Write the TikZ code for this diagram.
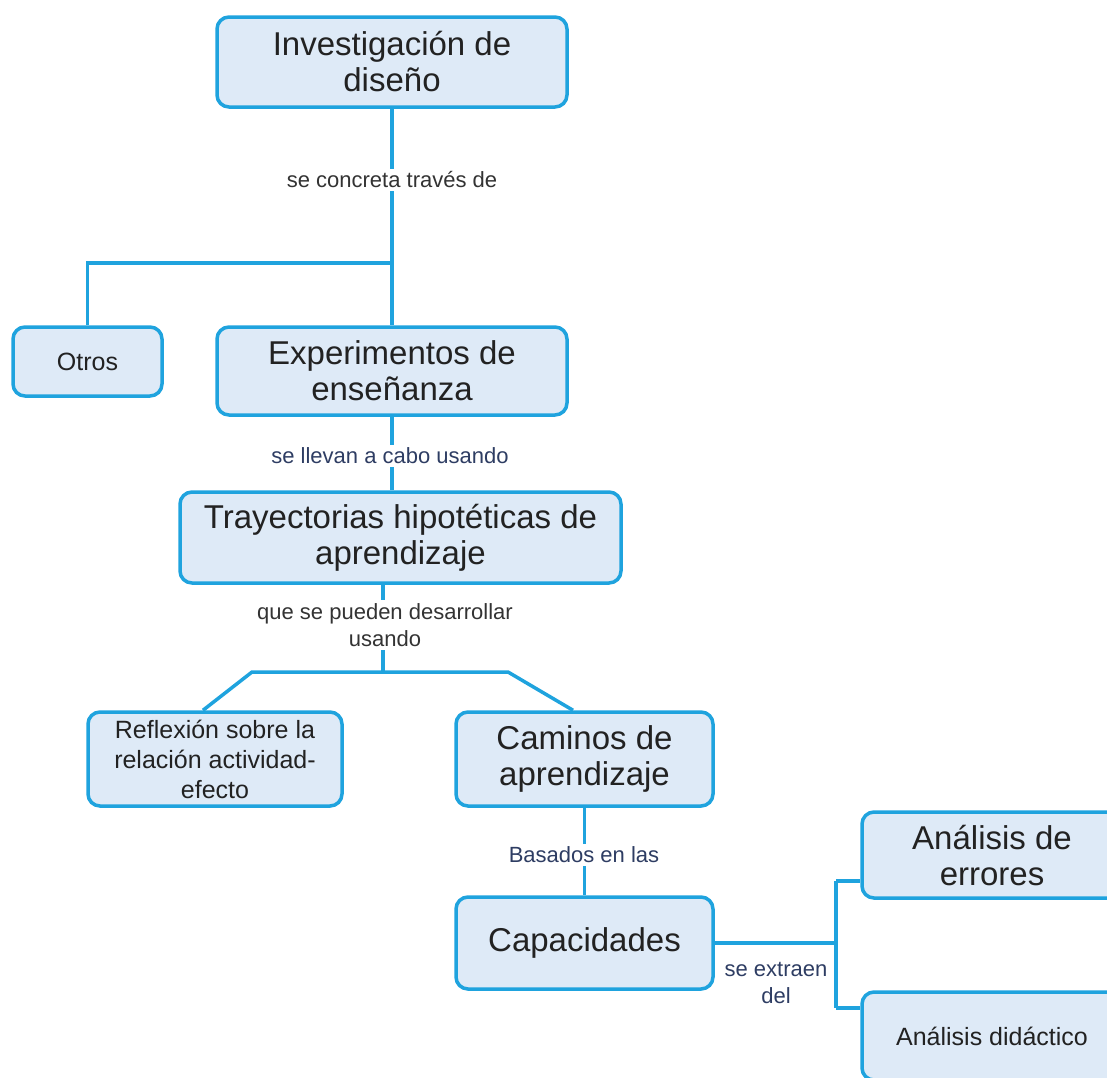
\documentclass[tikz,border=0pt]{standalone}
\usepackage{fontspec}
\setmainfont{Liberation Sans}
\usepackage{tikz}
\usetikzlibrary{calc,positioning}
\definecolor{mapline}{HTML}{1FA3DE}
\definecolor{mapfill}{HTML}{DEEAF7}
\definecolor{mapink}{HTML}{222222}
\definecolor{linkgray}{HTML}{333333}
\definecolor{linknavy}{HTML}{2E3D63}

\begin{document}
\begin{tikzpicture}[x=0.5pt,y=-0.5pt,
    concept/.style={draw=mapline,fill=mapfill,line width=1.75pt,rounded corners=6pt,
      align=center,text=mapink,inner sep=2pt},
    bigbox/.style={concept,font=\fontsize{16.5}{18}\selectfont},
    smallbox/.style={concept,font=\fontsize{12.5}{15}\selectfont},
    link/.style={mapline,line width=1.75pt},
    linklabel/.style={fill=white,align=center,inner sep=1.5pt,
      font=\fontsize{11}{13.5}\selectfont},
  ]
  \useasboundingbox (0,0) rectangle (1107,1077);

  % Concepts
  \node[bigbox,minimum width=175pt,minimum height=45pt] (inv) at (392,62)
    {Investigación de\\diseño};
  \node[smallbox,minimum width=74.5pt,minimum height=34.5pt] (otros) at (87.5,361.5)
    {Otros};
  \node[bigbox,minimum width=175pt,minimum height=44pt] (exp) at (392,371)
    {Experimentos de\\enseñanza};
  \node[bigbox,minimum width=220.5pt,minimum height=45.5pt] (tray) at (400.5,537.5)
    {Trayectorias hipotéticas de\\aprendizaje};
  \node[smallbox,minimum width=127pt,minimum height=47pt] (refl) at (215,759)
    {Reflexión sobre la\\relación actividad-\\efecto};
  \node[bigbox,minimum width=128.5pt,minimum height=47pt] (cam) at (584.5,759)
    {Caminos de\\aprendizaje};
  \node[bigbox,minimum width=128.5pt,minimum height=46pt] (cap) at (584.5,943)
    {Capacidades};
  \node[bigbox,minimum width=130pt,minimum height=43pt] (err) at (992,855)
    {Análisis de\\errores};
  \node[smallbox,minimum width=130pt,minimum height=44pt] (did) at (992,1036)
    {Análisis didáctico};

  % Junctions
  \coordinate (j1) at (392,263);
  \coordinate (j2) at (383,672);
  \coordinate (jl) at (252,672);
  \coordinate (jr) at (508,672);
  \coordinate (j3) at (836,943);
  \coordinate (ja) at (836,881);
  \coordinate (jb) at (836,1008);

  % Connectors
  \draw[link] (inv) -- (j1) -- (exp);
  \draw[link] (j1) -| (otros);
  \draw[link] (exp) -- (exp |- tray.north);
  \draw[link] (tray.south -| j2) -- (j2);
  \draw[link] ([xshift=-6pt]refl.north) -- (jl) -- (jr) -- ([xshift=-5.75pt]cam.north);
  \draw[link] (cam) -- (cap);
  \draw[link] (cap.east) -- (j3);
  \draw[link] (ja) -- (jb);
  \draw[link] (ja) -- (ja -| err.west);
  \draw[link] (jb) -- (jb -| did.west);

  % Link labels
  \node[linklabel,text=linkgray] (l1) at (392,180) {se concreta través de};
  \node[linklabel,text=linknavy] (l2) at (390,456) {se llevan a cabo usando};
  \node[linklabel,text=linkgray] (l3) at (385,625) {que se pueden desarrollar\\usando};
  \node[linklabel,text=linknavy] (l4) at (584,855) {Basados en las};
  \node[linklabel,text=linknavy] (l5) at (776,983) {se extraen\\del};
\end{tikzpicture}
\end{document}
